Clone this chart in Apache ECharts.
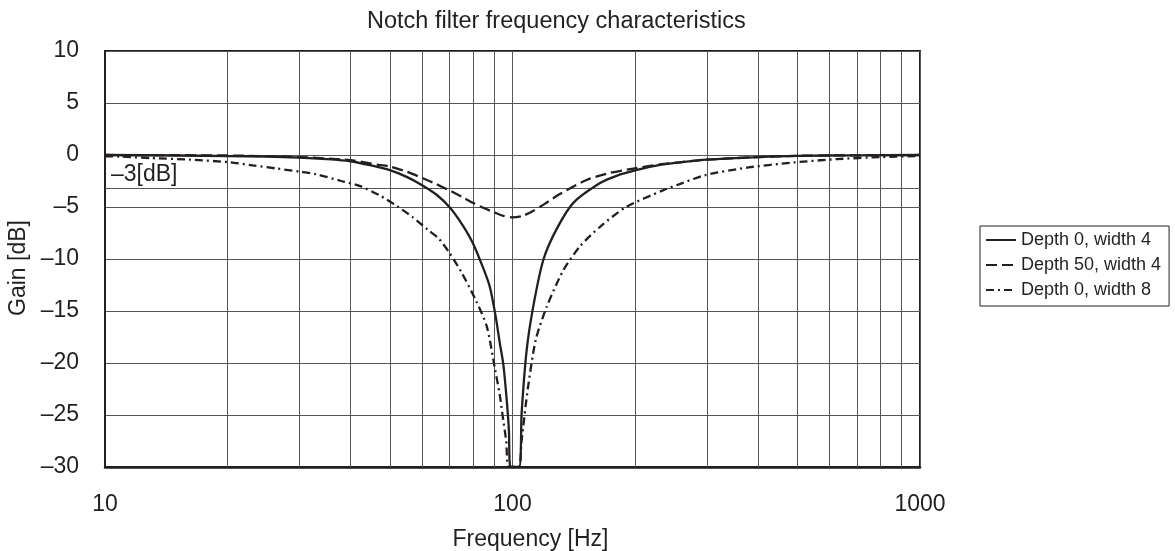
<!DOCTYPE html>
<html>
<head>
<meta charset="utf-8">
<title>Notch filter frequency characteristics</title>
<script src="https://cdn.jsdelivr.net/npm/echarts@6/dist/echarts.min.js"></script>
<style>
  html, body { margin: 0; padding: 0; background: #fff; }
  #chart { width: 1175px; height: 551px; }
</style>
</head>
<body>
<div id="chart"></div>
<script>
// values (frequency in Hz, gain in dB)
const freqDepth0W4 = [10, 15, 20, 25, 30, 35, 40, 45, 50, 55, 60, 65, 70, 75, 80, 85, 88, 91, 93, 95, 97, 98, 98.9,
  103.8, 105.3, 108.3, 112.4, 119, 128, 141, 164, 180, 202, 230, 258, 300, 400, 500, 700, 1000]
const gainDepth0W4 = [0, -0.05, -0.1, -0.15, -0.25, -0.4, -0.6, -1.0, -1.45, -2.1, -2.9, -3.8, -5.0, -6.6, -8.5, -11.0, -12.7, -15.6, -18, -20.2, -24, -26.5, -30,
  -30, -24.8, -18.8, -14.6, -10.1, -7.2, -4.6, -2.7, -2.0, -1.44, -0.95, -0.7, -0.45, -0.2, -0.08, -0.03, 0]

const freqDepth50W4 = [10, 20, 30, 40, 47, 50, 55, 60, 65, 70, 75, 80, 85, 90, 95, 100, 106, 112, 120, 130, 140, 152, 170, 198, 230, 257, 300, 400, 500, 700, 1000]
const gainDepth50W4 = [0, -0.05, -0.2, -0.5, -0.96, -1.1, -1.6, -2.2, -2.8, -3.4, -4.0, -4.6, -5.1, -5.5, -5.85, -6.0, -5.85, -5.4, -4.7, -3.8, -3.1, -2.4, -1.8, -1.3, -0.9, -0.7, -0.45, -0.2, -0.08, -0.03, 0]

const freqDepth0W8 = [10, 10.9, 13, 16.2, 20.3, 23, 26.4, 30, 33, 38, 42.3, 47.3, 52, 57, 62, 65.8, 70, 75, 81.6, 86.5, 90.6, 93, 94.9, 96.5, 97.9,
  103.5, 105.3, 109.2, 114, 121.3, 133.2, 146.3, 164, 190, 234, 257, 296, 379, 489, 624, 800, 1000]
const gainDepth0W8 = [-0.12, -0.15, -0.3, -0.45, -0.7, -1.0, -1.3, -1.6, -1.85, -2.5, -3.0, -3.9, -4.9, -6.0, -7.2, -8.0, -9.4, -11.3, -14.1, -16.5, -20.6, -23, -25.5, -27.5, -30,
  -30, -27.4, -22.3, -17.8, -14.6, -11.1, -8.8, -6.9, -5.0, -3.4, -2.8, -1.95, -1.2, -0.72, -0.4, -0.2, -0.1]

const seriesNames = ['Depth 0, width 4', 'Depth 50, width 4', 'Depth 0, width 8']
const minorFreqs = [20, 30, 40, 50, 60, 70, 80, 90, 200, 300, 400, 500, 600, 700, 800, 900]
const xTicks = [10, 100, 1000]
const cutoffGain = -3.2

const ink = '#231f20'
const gridInk = '#555'
const fontFamily = 'Liberation Sans, Arial, sans-serif'

function pairs(xs, ys) {
  return xs.map((x, i) => [x, ys[i]])
}

function curve(name, xs, ys, dash) {
  return {
    name: name,
    type: 'line',
    data: pairs(xs, ys),
    symbol: 'none',
    showSymbol: false,
    smooth: 0.25,
    z: 5,
    lineStyle: { color: ink, width: 2.3, type: dash },
    itemStyle: { color: ink }
  }
}

const chart = echarts.init(document.getElementById('chart'), null, { renderer: 'canvas' })
chart.setOption({
  animation: false,
  textStyle: { fontFamily: fontFamily, color: ink },
  title: {
    text: 'Notch filter frequency characteristics',
    left: 362,
    top: 5,
    textStyle: { fontSize: 23.5, fontWeight: 'normal', color: ink, fontFamily: fontFamily }
  },
  legend: {
    data: seriesNames,
    orient: 'vertical',
    left: 980,
    top: 226,
    padding: [5, 8, 7, 5],
    itemGap: 7,
    itemWidth: 30,
    itemHeight: 14,
    borderColor: ink,
    borderWidth: 1,
    borderRadius: 0,
    itemStyle: { opacity: 0 },
    textStyle: { fontSize: 18, color: ink, fontFamily: fontFamily }
  },
  grid: {
    left: 105,
    right: 255,
    top: 51,
    bottom: 84,
    containLabel: false,
    outerBoundsMode: 'none',
    show: true,
    borderColor: ink,
    borderWidth: 2
  },
  xAxis: {
    type: 'log',
    logBase: 10,
    min: 10,
    max: 1000,
    name: 'Frequency [Hz]',
    nameLocation: 'middle',
    nameGap: 61,
    nameTextStyle: { fontSize: 23, color: ink, padding: [0, 0, 0, 36] },
    axisLine: { show: true, onZero: false, lineStyle: { color: ink, width: 2.5 } },
    axisTick: { show: false },
    axisLabel: {
      fontSize: 23,
      color: ink,
      margin: 26,
      formatter: function (v) { return xTicks.indexOf(v) >= 0 ? String(v) : '' }
    },
    splitLine: { show: true, lineStyle: { color: gridInk, width: 1 } }
  },
  yAxis: {
    type: 'value',
    min: -30,
    max: 10,
    interval: 5,
    name: 'Gain [dB]',
    nameLocation: 'middle',
    nameGap: 63,
    nameRotate: 90,
    nameTextStyle: { fontSize: 23, color: ink, padding: [0, 18, 0, 0] },
    axisLine: { show: true, lineStyle: { color: ink, width: 2 } },
    axisTick: { show: false },
    axisLabel: {
      fontSize: 23,
      color: ink,
      margin: 26,
      formatter: function (v) { return String(v).replace('-', '\u2013') }
    },
    splitLine: { show: true, lineStyle: { color: gridInk, width: 1 } }
  },
  series: [
    {
      name: 'grid',
      type: 'line',
      data: [],
      z: 1,
      markLine: {
        silent: true,
        symbol: ['none', 'none'],
        animation: false,
        label: { show: false },
        lineStyle: { type: 'solid', color: gridInk, width: 1 },
        data: minorFreqs.map(f => ({ xAxis: f })).concat([{
          yAxis: cutoffGain,
          label: {
            show: true,
            position: 'insideStartTop',
            formatter: '\u20133[dB]',
            fontSize: 23,
            color: ink,
            distance: [6, 2]
          }
        }])
      }
    },
    curve(seriesNames[0], freqDepth0W4, gainDepth0W4, 'solid'),
    curve(seriesNames[1], freqDepth50W4, gainDepth50W4, [11, 5]),
    curve(seriesNames[2], freqDepth0W8, gainDepth0W8, [8, 4, 2, 4])
  ]
})
</script>
</body>
</html>
